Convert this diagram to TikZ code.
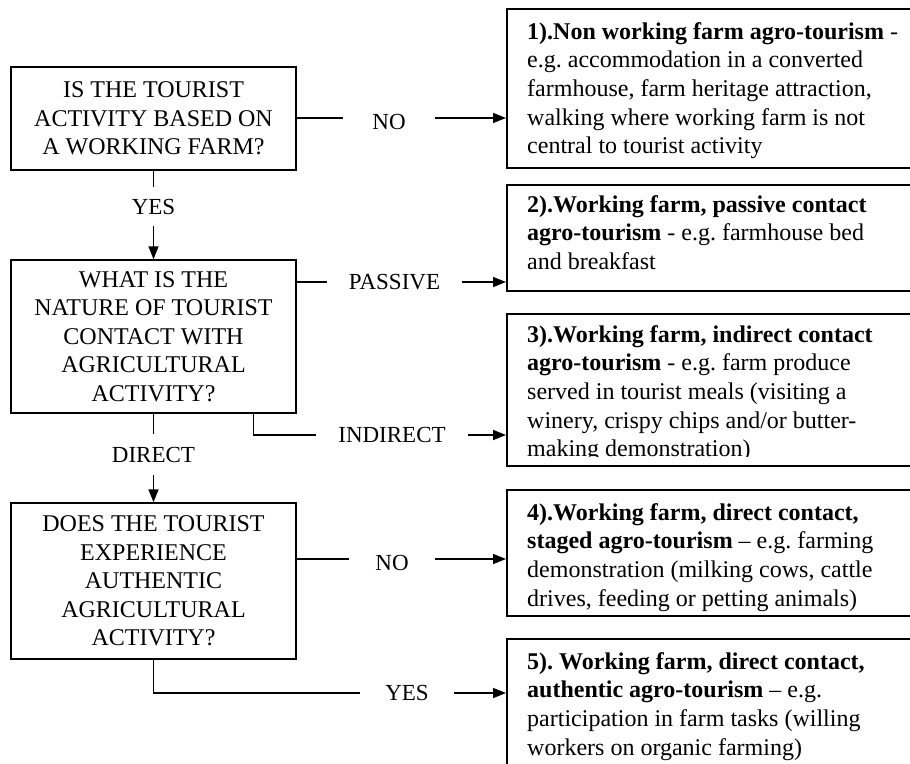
\documentclass[tikz,border=0pt]{standalone}
\usepackage{fontspec}
\setmainfont{Liberation Serif}
\usetikzlibrary{arrows.meta}
\begin{document}
\begin{tikzpicture}[x=1pt,y=-1pt,
  qbox/.style={draw,line width=1.5pt,rectangle,inner sep=0pt,align=center,
    minimum width=285pt,font=\fontsize{24}{28.5}\selectfont},
  rbox/.style={draw,line width=1.5pt,rectangle,inner sep=0pt,anchor=north west,minimum width=424pt},
  rtext/.style={inner sep=0pt,anchor=north west,align=left,font=\fontsize{24}{28.7}\selectfont},
  lab/.style={inner sep=0pt,font=\fontsize{23}{27}\selectfont,text height=15.5pt,text depth=0pt},
  labno/.style={lab,text height=22.5pt},
  conn/.style={line width=1.5pt},
  arr/.style={conn,-{Triangle[length=13pt,width=10pt]}}
]
\clip (0,0) rectangle (910,763);
\fill[white] (0,0) rectangle (910,763);

% question boxes
\node[qbox,minimum height=103pt] (A) at (153.5,118.5)
  {IS THE TOURIST\\ ACTIVITY BASED ON\\ A WORKING FARM?};
\node[qbox,minimum height=153pt] (B) at (153.5,336.5)
  {WHAT IS THE\\ NATURE OF TOURIST\\ CONTACT WITH\\ AGRICULTURAL\\ ACTIVITY?};
\node[qbox,minimum height=156pt] (C) at (153.5,581)
  {DOES THE TOURIST\\ EXPERIENCE\\ AUTHENTIC\\ AGRICULTURAL\\ ACTIVITY?};

% outcome boxes
\node[rbox,minimum height=159pt] (r1) at (506,8) {};
\node[rbox,minimum height=106pt] (r2) at (506,184) {};
\node[rbox,minimum height=152pt] (r3) at (506,313) {};
\node[rbox,minimum height=126pt] (r4) at (506,489) {};
\node[rbox,minimum height=162pt] (r5) at (506,638) {};

\node[rtext] (t1) at (527,18.9) {\strut\textbf{1).Non working farm agro-tourism} -\\
  e.g.\ accommodation in a converted\\ farmhouse, farm heritage attraction,\\
  walking where working farm is not\\ central to tourist activity};
\node[rtext] (t2) at (527,191.9) {\strut\textbf{2).Working farm, passive contact}\\
  \textbf{agro-tourism} - e.g.\ farmhouse bed\\ and breakfast};
\begin{scope}
\clip (506,313) rectangle (930,456);
\node[rtext] (t3) at (527,321.9) {\strut\textbf{3).Working farm, indirect contact}\\
  \textbf{agro-tourism} - e.g.\ farm produce\\ served in tourist meals (visiting a\\
  winery, crispy chips and/or butter-\\ making demonstration)};
\end{scope}
\node[rtext] (t4) at (527,499.9) {\strut\textbf{4).Working farm, direct contact,}\\
  \textbf{staged agro-tourism} -- e.g.\ farming\\ demonstration (milking cows, cattle\\
  drives, feeding or petting animals)};
\node[rtext] (t5) at (527,648.9) {\strut\textbf{5).\ Working farm, direct contact,}\\
  \textbf{authentic agro-tourism} -- e.g.\\ participation in farm tasks (willing\\
  workers on organic farming)};

% labels
\node[labno,minimum width=92pt] (no1) at (389,118) {NO};
\node[lab,minimum height=39pt] (yes1) at (153.5,206.5) {YES};
\node[lab,minimum width=135pt] (pas) at (394.5,282) {PASSIVE};
\node[lab,minimum width=152pt] (ind) at (392,435) {INDIRECT};
\node[lab,minimum height=41pt] (dir) at (153.5,454.5) {DIRECT};
\node[labno,minimum width=86pt] (no2) at (392,559) {NO};
\node[lab,minimum width=94pt] (yes2) at (407,693) {YES};

\coordinate (indS) at ([xshift=243pt]B.south west);

% connectors
\draw[conn] (A.east |- no1) -- (no1.west);
\draw[arr] (no1.east) -- (r1.west |- no1.east);
\draw[conn] (A.south) -- (yes1.north);
\draw[arr] (yes1.south) -- (B.north);
\draw[conn] (B.east |- pas) -- (pas.west);
\draw[arr] (pas.east) -- (r2.west |- pas.east);
\draw[conn] (indS) |- (ind.west);
\draw[arr] (ind.east) -- (r3.west |- ind.east);
\draw[conn] (B.south) -- (dir.north);
\draw[arr] (dir.south) -- (C.north);
\draw[conn] (C.east |- no2) -- (no2.west);
\draw[arr] (no2.east) -- (r4.west |- no2.east);
\draw[conn] (C.south) |- (yes2.west);
\draw[arr] (yes2.east) -- (r5.west |- yes2.east);
\end{tikzpicture}
\end{document}
